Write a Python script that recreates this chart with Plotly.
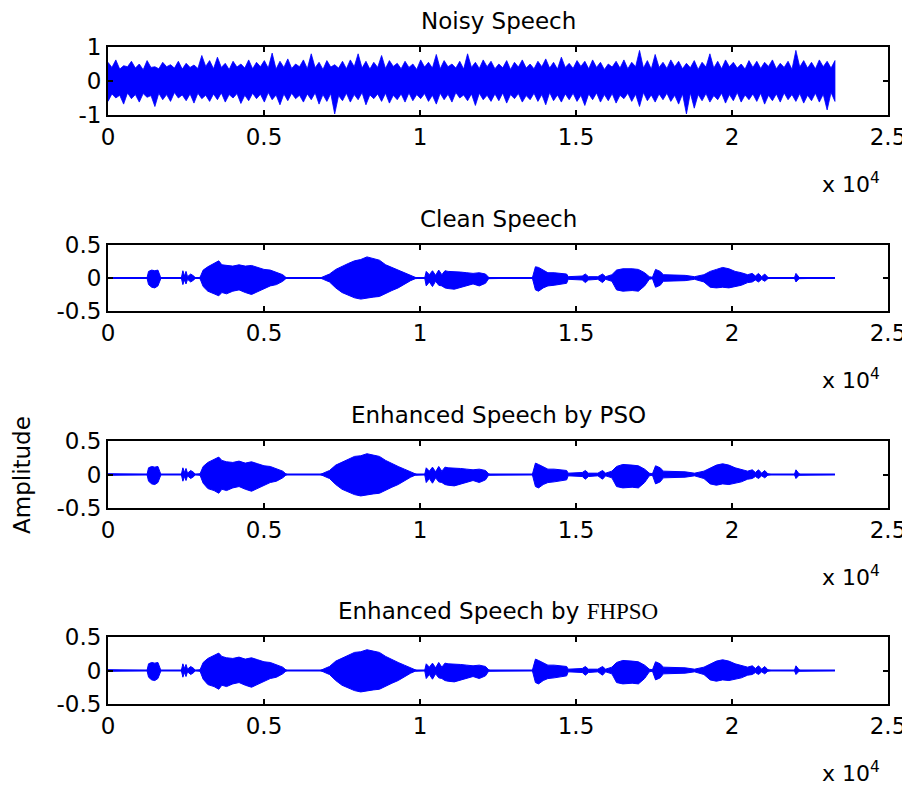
import plotly.graph_objects as go

# ---------------- data ----------------
SIGNAL_LEN = 23300  # samples

# Noisy speech: envelope peaks (evenly spaced) and troughs between them
noisy_up = [0.55, 0.62, 0.45, 0.58, 0.50, 0.60, 0.42, 0.55, 0.48, 0.58,
            0.52, 0.47, 0.75, 0.60, 0.70, 0.52, 0.58, 0.50, 0.62, 0.55,
            0.60, 0.82, 0.58, 0.65, 0.50, 0.62, 0.80, 0.55, 0.60, 0.48,
            0.58, 0.62, 0.80, 0.58, 0.55, 0.75, 0.60, 0.52, 0.58, 0.50,
            0.62, 0.55, 0.78, 0.60, 0.50, 0.58, 0.80, 0.55, 0.62, 0.58,
            0.50, 0.60, 0.55, 0.62, 0.50, 0.58, 0.65, 0.55, 0.70, 0.52,
            0.60, 0.58, 0.62, 0.55, 0.50, 0.58, 0.62, 0.55, 0.90, 0.60,
            0.78, 0.55, 0.62, 0.58, 0.52, 0.60, 0.55, 0.80, 0.58, 0.62,
            0.55, 0.50, 0.60, 0.58, 0.55, 0.62, 0.52, 0.58, 0.90, 0.60,
            0.55, 0.62, 0.58, 0.60]
noisy_lo = [-0.60, -0.50, -0.68, -0.52, -0.62, -0.48, -0.75, -0.55, -0.60, -0.50,
            -0.58, -0.65, -0.52, -0.60, -0.55, -0.62, -0.50, -0.66, -0.58, -0.52,
            -0.62, -0.55, -0.70, -0.58, -0.52, -0.62, -0.55, -0.68, -0.60, -0.97,
            -0.58, -0.62, -0.55, -0.70, -0.52, -0.60, -0.65, -0.55, -0.62, -0.58,
            -0.52, -0.60, -0.68, -0.55, -0.62, -0.50, -0.58, -0.72, -0.55, -0.60,
            -0.58, -0.65, -0.52, -0.62, -0.55, -0.60, -0.70, -0.58, -0.62, -0.55,
            -0.60, -0.72, -0.55, -0.62, -0.58, -0.65, -0.52, -0.60, -0.75, -0.58,
            -0.62, -0.55, -0.60, -0.68, -0.97, -0.80, -0.58, -0.62, -0.55, -0.65,
            -0.58, -0.62, -0.55, -0.60, -0.68, -0.58, -0.62, -0.55, -0.60, -0.65,
            -0.58, -0.62, -0.85, -0.60]
noisy_up_trough = [0.40, 0.35, 0.42, 0.38, 0.33, 0.40, 0.36, 0.42, 0.38, 0.35,
                   0.40, 0.37, 0.43, 0.36, 0.40, 0.34, 0.41, 0.38, 0.36, 0.42,
                   0.38, 0.35, 0.40, 0.37, 0.42, 0.36, 0.39, 0.34, 0.41, 0.38,
                   0.36, 0.42, 0.38, 0.35, 0.40, 0.37, 0.43, 0.36, 0.40, 0.34,
                   0.41, 0.38, 0.36, 0.42, 0.38, 0.35, 0.40, 0.37, 0.42, 0.36,
                   0.39, 0.34, 0.41, 0.38, 0.36, 0.42, 0.38, 0.35, 0.40, 0.37,
                   0.43, 0.36, 0.40, 0.34, 0.41, 0.38, 0.36, 0.42, 0.38, 0.35,
                   0.40, 0.37, 0.42, 0.36, 0.39, 0.34, 0.41, 0.38, 0.36, 0.42,
                   0.38, 0.35, 0.40, 0.37, 0.43, 0.36, 0.40, 0.34, 0.41, 0.38,
                   0.36, 0.42, 0.38]
noisy_lo_trough = [-0.38, -0.42, -0.35, -0.40, -0.37, -0.43, -0.36, -0.40, -0.34, -0.41,
                   -0.38, -0.36, -0.42, -0.38, -0.35, -0.40, -0.37, -0.42, -0.36, -0.39,
                   -0.34, -0.41, -0.38, -0.36, -0.42, -0.38, -0.35, -0.40, -0.37, -0.43,
                   -0.36, -0.40, -0.34, -0.41, -0.38, -0.36, -0.42, -0.38, -0.35, -0.40,
                   -0.37, -0.42, -0.36, -0.39, -0.34, -0.41, -0.38, -0.36, -0.42, -0.38,
                   -0.35, -0.40, -0.37, -0.43, -0.36, -0.40, -0.34, -0.41, -0.38, -0.36,
                   -0.42, -0.38, -0.35, -0.40, -0.37, -0.42, -0.36, -0.39, -0.34, -0.41,
                   -0.38, -0.36, -0.42, -0.38, -0.35, -0.40, -0.37, -0.43, -0.36, -0.40,
                   -0.34, -0.41, -0.38, -0.36, -0.42, -0.38, -0.35, -0.40, -0.37, -0.42,
                   -0.36, -0.39, -0.34]

# Clean / enhanced speech: envelope breakpoints (sample index, upper, lower)
speech_x = [0, 1250, 1300, 1400, 1500, 1600, 1680, 1700, 2350, 2400,
            2450, 2500, 2550, 2650, 2750, 2800, 2950, 3050, 3200, 3400,
            3550, 3650, 3800, 4000, 4200, 4400, 4600, 4800, 5000, 5200,
            5400, 5600, 5700, 5750, 6800, 6900, 7100, 7300, 7500, 7700,
            7900, 8100, 8300, 8500, 8700, 8900, 9100, 9300, 9500, 9700,
            9850, 9900, 10150, 10200, 10300, 10400, 10500, 10600, 10700, 10800,
            10900, 11100, 11300, 11500, 11700, 11900, 12100, 12200, 12250, 13600,
            13700, 13800, 13950, 14100, 14300, 14500, 14700, 14750, 15200, 15300,
            15400, 15700, 15850, 15950, 16150, 16300, 16500, 16800, 17000, 17200,
            17350, 17450, 17550, 17700, 17800, 18500, 18800, 19100, 19300, 19500,
            19700, 19900, 20100, 20300, 20500, 20650, 20750, 20850, 20950, 21050,
            21150, 21250, 22000, 22050, 22150, 22200, 23300]

clean_up = [0, 0, 0.10, 0.12, 0.11, 0.12, 0.02, 0, 0, 0.11,
            0.03, 0.10, 0.02, 0.06, 0.03, 0, 0.01, 0.12, 0.17, 0.22,
            0.26, 0.20, 0.19, 0.18, 0.20, 0.18, 0.19, 0.16, 0.13, 0.12,
            0.09, 0.05, 0.01, 0, 0, 0.02, 0.06, 0.13, 0.18, 0.22,
            0.26, 0.28, 0.32, 0.29, 0.27, 0.20, 0.16, 0.12, 0.08, 0.04,
            0.01, 0, 0, 0.10, 0.05, 0.11, 0.04, 0.12, 0.05, 0.11,
            0.10, 0.10, 0.09, 0.08, 0.07, 0.08, 0.06, 0.01, 0, 0,
            0.17, 0.16, 0.12, 0.08, 0.08, 0.07, 0.06, 0.02, 0.03, 0.06,
            0.02, 0.02, 0.06, 0.02, 0.05, 0.12, 0.14, 0.14, 0.13, 0.08,
            0.02, 0.01, 0.13, 0.10, 0.05, 0.04, 0.02, 0.05, 0.10, 0.13,
            0.16, 0.14, 0.10, 0.08, 0.05, 0.07, 0.03, 0.07, 0.02, 0.06,
            0.01, 0, 0, 0.07, 0.01, 0, 0]
clean_lo = [0, 0, -0.10, -0.14, -0.15, -0.12, -0.02, 0, 0, -0.10,
            -0.03, -0.09, -0.02, -0.06, -0.03, 0, -0.01, -0.13, -0.20, -0.24,
            -0.27, -0.22, -0.24, -0.20, -0.18, -0.22, -0.25, -0.20, -0.16, -0.12,
            -0.10, -0.05, -0.01, 0, 0, -0.02, -0.06, -0.15, -0.22, -0.26,
            -0.30, -0.32, -0.31, -0.29, -0.28, -0.24, -0.19, -0.15, -0.10, -0.04,
            -0.01, 0, 0, -0.12, -0.06, -0.13, -0.05, -0.11, -0.12, -0.15,
            -0.16, -0.17, -0.15, -0.12, -0.09, -0.12, -0.08, -0.01, 0, 0,
            -0.18, -0.20, -0.15, -0.12, -0.11, -0.10, -0.08, -0.02, -0.03, -0.07,
            -0.03, -0.02, -0.07, -0.02, -0.05, -0.18, -0.20, -0.19, -0.20, -0.12,
            -0.02, -0.01, -0.14, -0.11, -0.05, -0.04, -0.02, -0.06, -0.14, -0.15,
            -0.14, -0.15, -0.13, -0.11, -0.07, -0.06, -0.03, -0.06, -0.02, -0.05,
            -0.01, 0, 0, -0.06, -0.01, 0, 0]

pso_up = [0.01, 0, 0.10, 0.12, 0.11, 0.12, 0.02, 0, 0, 0.10,
          0.03, 0.09, 0.02, 0.06, 0.03, 0, 0.01, 0.12, 0.18, 0.22,
          0.26, 0.21, 0.19, 0.18, 0.20, 0.17, 0.19, 0.16, 0.13, 0.12,
          0.09, 0.05, 0.01, 0, 0, 0.02, 0.06, 0.14, 0.18, 0.22,
          0.27, 0.28, 0.31, 0.29, 0.27, 0.21, 0.16, 0.12, 0.08, 0.04,
          0.01, 0, 0, 0.10, 0.05, 0.11, 0.04, 0.12, 0.05, 0.11,
          0.10, 0.10, 0.09, 0.08, 0.07, 0.08, 0.06, 0.01, 0, 0,
          0.17, 0.15, 0.12, 0.08, 0.08, 0.07, 0.06, 0.02, 0.03, 0.06,
          0.02, 0.02, 0.06, 0.02, 0.05, 0.12, 0.15, 0.14, 0.13, 0.08,
          0.02, 0.01, 0.13, 0.10, 0.05, 0.04, 0.02, 0.05, 0.10, 0.14,
          0.16, 0.14, 0.10, 0.08, 0.05, 0.07, 0.03, 0.07, 0.02, 0.06,
          0.01, 0, 0, 0.07, 0.01, 0, 0]
pso_lo = [-0.01, 0, -0.10, -0.14, -0.15, -0.12, -0.02, 0, 0, -0.10,
          -0.03, -0.09, -0.02, -0.06, -0.03, 0, -0.01, -0.13, -0.21, -0.24,
          -0.28, -0.22, -0.24, -0.20, -0.18, -0.22, -0.25, -0.20, -0.16, -0.12,
          -0.10, -0.05, -0.01, 0, 0, -0.02, -0.06, -0.15, -0.22, -0.26,
          -0.30, -0.32, -0.31, -0.29, -0.28, -0.24, -0.19, -0.15, -0.10, -0.04,
          -0.01, 0, 0, -0.12, -0.06, -0.13, -0.05, -0.11, -0.12, -0.15,
          -0.16, -0.17, -0.15, -0.12, -0.09, -0.12, -0.08, -0.01, 0, 0,
          -0.18, -0.20, -0.15, -0.12, -0.11, -0.10, -0.08, -0.02, -0.03, -0.07,
          -0.03, -0.02, -0.07, -0.02, -0.05, -0.18, -0.20, -0.19, -0.20, -0.12,
          -0.02, -0.01, -0.14, -0.11, -0.05, -0.04, -0.02, -0.06, -0.14, -0.16,
          -0.14, -0.15, -0.13, -0.11, -0.07, -0.06, -0.03, -0.06, -0.02, -0.05,
          -0.01, 0, 0, -0.06, -0.01, 0, 0]

fhpso_up = list(pso_up)
fhpso_lo = list(pso_lo)

x_tick_vals = [0, 5000, 10000, 15000, 20000, 25000]
x_tick_text = ["0", "0.5", "1", "1.5", "2", "2.5"]
noisy_y_ticks = [-1, 0, 1]
noisy_y_text = ["-1", "0", "1"]
speech_y_ticks = [-0.5, 0, 0.5]
speech_y_text = ["-0.5", "0", "0.5"]

titles = ["Noisy Speech", "Clean Speech", "Enhanced Speech by PSO",
          "Enhanced Speech by <span style='font-family:Liberation Serif'>FHPSO</span>"]

# ---------------- figure ----------------
PAGE_OFF = 8                      # page body margin in the browser
W, H = 910 - PAGE_OFF, 789 - PAGE_OFF
BLUE = "#0000FF"
FONT = "DejaVu Sans"
FS = 23
rows_px = [(47, 115), (245, 311), (441, 508), (637, 704)]   # in window pixels
x_left, x_right = 108, 888


def px_x(p):
    return (p - PAGE_OFF) / W


def px_y(p):
    return 1 - (p - PAGE_OFF) / H


fig = go.Figure()


def add_env(xs, up, lo, idx, lw=1):
    sfx = "" if idx == 1 else str(idx)
    fig.add_trace(go.Scatter(
        x=list(xs) + list(xs)[::-1], y=list(up) + list(lo)[::-1],
        fill="toself", fillcolor=BLUE, mode="lines",
        line=dict(color=BLUE, width=lw), hoverinfo="skip", showlegend=False,
        xaxis="x" + sfx, yaxis="y" + sfx))


# interleave envelope peaks and troughs for the noisy signal
n = len(noisy_up)
step = SIGNAL_LEN / (n - 1)
nx, nu, nl = [], [], []
for i in range(n):
    nx.append(i * step)
    nu.append(noisy_up[i])
    nl.append(noisy_lo[i])
    if i < n - 1:
        nx.append((i + 0.5) * step)
        nu.append(noisy_up_trough[i])
        nl.append(noisy_lo_trough[i])
add_env(nx, nu, nl, 1, lw=0.8)

for idx, (up, lo) in zip([2, 3, 4], [(clean_up, clean_lo), (pso_up, pso_lo), (fhpso_up, fhpso_lo)]):
    add_env(speech_x, up, lo, idx)
    fig.add_trace(go.Scatter(x=[0, SIGNAL_LEN], y=[0, 0], mode="lines",
                             line=dict(color=BLUE, width=2), showlegend=False,
                             hoverinfo="skip", xaxis="x" + str(idx), yaxis="y" + str(idx)))

layout = dict(width=W, height=H, margin=dict(l=0, r=0, t=0, b=0, autoexpand=False),
              paper_bgcolor="white", plot_bgcolor="white",
              font=dict(family=FONT, size=FS, color="black"), showlegend=False)

annotations = []
for i, (top, bot) in enumerate(rows_px):
    k = i + 1
    sfx = "" if k == 1 else str(k)
    dom_y = [px_y(bot), px_y(top)]
    axis_common = dict(showline=True, linecolor="black", linewidth=2, mirror="ticks",
                       ticks="inside", ticklen=5, tickwidth=1.5, tickcolor="black",
                       showgrid=False, zeroline=False, automargin=False,
                       tickfont=dict(family=FONT, size=FS))
    layout["xaxis" + sfx] = dict(axis_common, domain=[px_x(x_left), px_x(x_right)], range=[0, 25000],
                                 tickvals=x_tick_vals, ticktext=x_tick_text,
                                 anchor="y" + sfx)
    if k == 1:
        layout["yaxis" + sfx] = dict(axis_common, domain=dom_y, range=[-1, 1],
                                     tickvals=noisy_y_ticks, ticktext=noisy_y_text,
                                     anchor="x" + sfx)
    else:
        layout["yaxis" + sfx] = dict(axis_common, domain=dom_y, range=[-0.5, 0.5],
                                     tickvals=speech_y_ticks, ticktext=speech_y_text,
                                     anchor="x" + sfx)
    annotations.append(dict(text=titles[i], x=px_x((x_left + x_right) / 2), y=px_y(top - 26),
                            xref="paper", yref="paper", xanchor="center", yanchor="middle",
                            showarrow=False, font=dict(family=FONT, size=FS, color="black")))
    annotations.append(dict(text="x 10<sup>4</sup>", x=px_x(882), y=px_y(bot + 68),
                            xref="paper", yref="paper", xanchor="right", yanchor="middle",
                            showarrow=False, font=dict(family=FONT, size=22, color="black")))

annotations.append(dict(text="Amplitude", x=px_x(22), y=px_y(475), xref="paper", yref="paper",
                        xanchor="center", yanchor="middle", textangle=-90, showarrow=False,
                        font=dict(family=FONT, size=FS, color="black")))
layout["annotations"] = annotations
fig.update_layout(**layout)

fig.write_html("out.html")
